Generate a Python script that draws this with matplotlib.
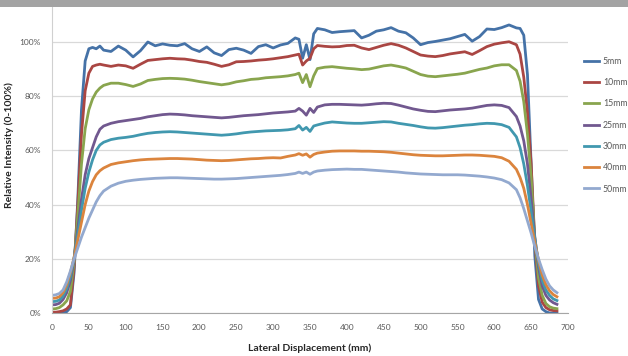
import matplotlib
matplotlib.use("Agg")
import matplotlib.pyplot as plt
from matplotlib.patches import Rectangle
from matplotlib.ticker import PercentFormatter

plt.rcParams['font.family'] = ['Lato', 'DejaVu Sans']

displacement_mm = [0, 5, 10, 15, 20, 25, 30, 35, 40, 45, 50, 55, 60, 65, 70, 80, 90,
                   100, 110, 120, 130, 140, 150, 160, 170, 180, 190, 200, 210, 220, 230, 240, 250,
                   260, 270, 280, 290, 300, 310, 320, 330,
                   335, 340, 345, 350, 355,
                   360, 370, 380, 390, 400, 410, 420, 430, 440, 450, 460, 470, 480, 490, 500, 510,
                   520, 530, 540, 550, 560, 570, 580, 590, 600, 610, 620, 630,
                   635, 640, 645, 650, 655, 660, 665, 670, 675, 680, 685]

depth_5mm = [0, 0, 0, 0, 0.5, 2, 15, 42, 75, 93, 97.5, 98, 97.5, 98.5, 97, 96.5, 98.5,
             97, 94.5, 96.8, 100, 98.6, 99.3, 98.8, 98.6, 99.4, 97.5, 96.5, 98.2, 96, 95, 97.2, 97.7,
             97, 95.8, 98.3, 99, 97.8, 98.9, 99.5, 101.5,
             101, 94, 99, 93.5, 103,
             105, 104.5, 103.5, 103.8, 104, 104.2, 101.5, 102.5, 104, 104.5, 105.3, 104, 103.4, 101.5,
             99, 99.8, 100.2, 100.7, 101.2, 102, 102.8, 100.3, 102, 104.8, 104.6, 105.3, 106.3, 105.2,
             105, 102.5, 88, 55, 21, 5, 1.5, 0.5, 0, 0, 0]

depth_10mm = [0.3, 0.3, 0.5, 0.8, 1.5, 3, 17, 40, 66, 82, 88.5, 91, 91.5, 91.8, 91.5, 91, 91.5,
              91.2, 90.3, 91.8, 93.2, 93.5, 93.8, 94, 93.8, 93.7, 93.3, 92.8, 92.5, 91.8, 91, 91.6, 92.7,
              92.8, 93, 93.3, 93.5, 93.8, 94.2, 94.6, 95.2,
              95.5, 91.5, 93, 94, 97.5,
              98.7, 98.4, 98.2, 98.3, 98.7, 98.8, 97.8, 97.2, 98, 98.8, 99.4, 98.8, 97.8, 96.5,
              95.2, 94.8, 94.6, 95, 95.6, 96, 96.4, 95.4, 96.8, 98.3, 99.2, 99.7, 100.1, 99,
              95.5, 87, 74, 55, 26, 10, 4, 2, 1.2, 0.9, 0.8]

depth_15mm = [1.5, 1.6, 2, 3, 4.5, 8, 19, 36, 55, 68, 75, 79, 81.5, 83, 84, 84.8, 84.8,
              84.3, 83.6, 84.5, 85.8, 86.2, 86.5, 86.6, 86.5, 86.3, 85.9, 85.4, 85, 84.6, 84.2, 84.6, 85.3,
              85.7, 86.2, 86.4, 86.8, 87, 87.2, 87.5, 88,
              88.5, 85, 88, 83.5, 87.5,
              90.2, 90.7, 90.9, 90.6, 90.3, 90.1, 89.8, 90, 90.6, 91.2, 91.5, 91, 90.4, 89.2,
              88, 87.4, 87.2, 87.5, 87.8, 88.1, 88.5, 89.2, 89.9, 90.4, 91.2, 91.6, 91.6, 89.5,
              85.5, 78, 66, 50, 27, 13, 6.5, 3.5, 2.3, 1.8, 1.6]

depth_25mm = [3, 3.1, 3.6, 5, 7.5, 12, 20, 31, 42, 51, 57, 61, 65, 67.8, 69, 70, 70.6,
              71, 71.4, 71.8, 72.4, 72.8, 73.2, 73.4, 73.3, 73.1, 72.8, 72.6, 72.4, 72.2, 72, 72.2, 72.5,
              72.8, 73, 73.2, 73.5, 73.8, 74, 74.2, 74.5,
              75.5, 74.5, 73, 75.5, 74,
              76, 76.8, 77, 77, 76.9, 76.8, 76.7, 76.9, 77.2, 77.4, 77.3, 76.7, 76, 75.3,
              74.8, 74.4, 74.3, 74.6, 74.9, 75.1, 75.3, 75.6, 76.1, 76.6, 76.8, 76.6, 75.8, 72.5,
              69, 63.5, 55, 42, 28, 17, 10, 6.5, 4.8, 3.8, 3.2]

depth_30mm = [4.2, 4.3, 4.8, 6.2, 9, 13.5, 20.5, 29, 38, 46, 52, 56.5, 60, 62, 63, 64, 64.5,
              64.8, 65.2, 65.8, 66.3, 66.6, 66.8, 66.9, 66.8, 66.6, 66.4, 66.2, 66, 65.8, 65.6, 65.8, 66.1,
              66.5, 66.8, 67, 67.2, 67.3, 67.4, 67.6, 68,
              69.2, 67.5, 68.5, 67, 69,
              69.4, 70.1, 70.5, 70.3, 70.1, 70, 70, 70.2, 70.4, 70.6, 70.5, 70, 69.6, 69.2,
              68.7, 68.3, 68.2, 68.4, 68.7, 69, 69.3, 69.5, 69.8, 70, 69.9, 69.5, 68.5, 65,
              61, 55, 47, 37.5, 27.5, 18.5, 12, 8.5, 6.5, 5.2, 4.6]

depth_40mm = [5.4, 5.5, 6, 7.5, 10.5, 15, 20.5, 27, 33.5, 40, 45, 48.5, 51, 52.5, 53.5, 54.8, 55.4,
              55.8, 56.2, 56.5, 56.7, 56.8, 56.9, 57, 57, 56.9, 56.8, 56.6, 56.4, 56.3, 56.2, 56.3, 56.5,
              56.7, 56.9, 57, 57.2, 57.3, 57.2, 57.8, 58.3,
              58.8, 58.2, 58.7, 57.5, 58.5,
              59, 59.4, 59.7, 59.8, 59.8, 59.8, 59.7, 59.7, 59.6, 59.5, 59.3, 59, 58.7, 58.4,
              58.2, 58.1, 58, 58, 58.1, 58.2, 58.3, 58.3, 58.2, 58, 57.8, 57.3, 56, 53,
              50, 46, 40, 33, 26, 19.5, 14, 10.5, 8.2, 6.8, 6]

depth_50mm = [6.5, 6.7, 7.2, 8.5, 11.5, 15.5, 20, 24, 28, 31.5, 35, 38, 41, 43.3, 45, 46.8, 47.9,
              48.6, 49, 49.3, 49.5, 49.7, 49.8, 49.9, 49.9, 49.8, 49.7, 49.6, 49.5, 49.4, 49.4, 49.5, 49.6,
              49.8, 50, 50.2, 50.4, 50.6, 50.8, 51.1, 51.5,
              52, 51.5, 52, 51.2, 52,
              52.4, 52.7, 52.9, 53, 53.1, 53, 53, 52.8, 52.6, 52.4, 52.2, 52, 51.7, 51.5,
              51.3, 51.2, 51.1, 51, 51, 51, 50.9, 50.7, 50.5, 50.2, 49.8, 49.2, 48, 45.5,
              42.5, 38.5, 34, 29.5, 24.5, 20, 16, 12.5, 10, 8.5, 7.5]

series_labels = ['5mm', '10mm', '15mm', '25mm', '30mm', '40mm', '50mm']
series_values = [depth_5mm, depth_10mm, depth_15mm, depth_25mm, depth_30mm, depth_40mm, depth_50mm]
series_colors = ['#4572A7', '#AA4643', '#89A54E', '#71588F', '#4198AF', '#DB843D', '#93A9CF']

x_ticks = list(range(0, 701, 50))
y_ticks = [0, 20, 40, 60, 80, 100]

W, H = 628, 356
fig = plt.figure(figsize=(W / 100, H / 100), dpi=100)
ax = fig.add_axes([52 / W, 43 / H, (568 - 52) / W, 313 / H])

for vals, lab, col in zip(series_values, series_labels, series_colors):
    ax.plot(displacement_mm, vals, color=col, lw=2.0, label=lab, solid_joinstyle='round')

ax.set_xlim(0, 700)
ax.set_ylim(0, 313 / 2.71)
ax.set_xticks(x_ticks)
ax.set_yticks(y_ticks)
ax.yaxis.set_major_formatter(PercentFormatter(100, decimals=0))
ax.grid(axis='y', color='#d9d9d9', lw=0.9)
ax.set_axisbelow(True)
for s in ['top', 'right']:
    ax.spines[s].set_visible(False)
ax.spines['left'].set_color('#d0d0d0')
ax.spines['bottom'].set_color('#a6a6a6')
ax.tick_params(length=0, labelsize=6, colors='#595959', pad=8)

ax.set_xlabel('Lateral Displacement (mm)', fontsize=7.5, fontweight='bold', color='#262626')
ax.xaxis.set_label_coords(0.5, -30 / 313)
ax.set_ylabel('Relative Intensity (0-100%)', fontsize=7.5, fontweight='bold', color='#262626')
ax.yaxis.set_label_coords(-38 / 516, 168 / 313)

leg = ax.legend(loc='upper left', bbox_to_anchor=(584 / W, 1 - 57 / H), bbox_transform=fig.transFigure,
                frameon=False, fontsize=6.3, handlelength=1.7, handletextpad=0.45,
                labelspacing=1.4, borderpad=0, borderaxespad=0)
for t in leg.get_texts():
    t.set_color('#595959')

fig.add_artist(Rectangle((0, 1 - 7 / H), 1, 7 / H, transform=fig.transFigure,
                         facecolor='#a3a3a3', edgecolor='none', zorder=10))

fig.savefig('out.png', dpi=100, facecolor='white')
